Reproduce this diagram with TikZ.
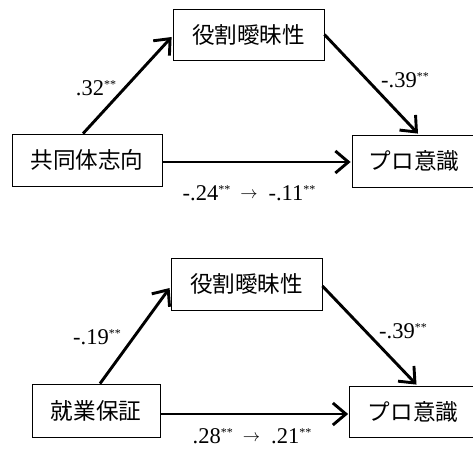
\documentclass[tikz,border=0pt]{standalone}
\usepackage{fontspec}
\setmainfont{Liberation Serif}
\newfontfamily\jpfont{Noto Sans CJK JP}
\usetikzlibrary{arrows.meta,calc}
\tikzset{
  box/.style={draw, line width=0.8pt, inner sep=0pt, font=\jpfont\fontsize{22.6}{22.6}\selectfont},
  conn/.style={line width=2.9pt, -{Straight Barb[length=13pt,width=22pt]}},
  lab/.style={font=\fontsize{22.5}{22.5}\selectfont, inner sep=0pt}
}
\newcommand{\sigmark}{\raisebox{6.5pt}{\fontsize{12}{12}\selectfont **}}
\newcommand{\midarrow}{\hspace{10pt}\raisebox{1.5pt}{\fontsize{17}{17}\selectfont$\rightarrow$}\hspace{11pt}}
\begin{document}
\begin{tikzpicture}[x=1pt,y=-1pt]
\useasboundingbox (0,0) rectangle (473,452);
% top diagram
\node[box, minimum width=151pt, minimum height=51pt] (M1) at (248.5,34.5) {役割曖昧性};
\node[box, minimum width=150pt, minimum height=52pt] (X1) at (87,160) {共同体志向};
\node[box, minimum width=124pt, minimum height=52pt] (Y1) at (414,161) {プロ意識};
\draw[conn] ($(X1.north)+(-4,0)$) -- ($(M1.west)+(-1,2.5)$);
\draw[conn] (M1.east) -- ($(Y1.north)+(4,-1)$);
\draw[conn] ($(X1.east)+(0,2)$) -- ($(Y1.west)+(-1,1)$);
\node[lab] (a1) at (96,88) {.32\sigmark};
\node[lab] (b1) at (405,80) {-.39\sigmark};
\node[lab] (c1) at (249,193) {-.24\sigmark\midarrow-.11\sigmark};
% bottom diagram
\node[box, minimum width=151pt, minimum height=52pt] (M2) at (246.5,284) {役割曖昧性};
\node[box, minimum width=128pt, minimum height=53pt] (X2) at (96,410.5) {就業保証};
\node[box, minimum width=127pt, minimum height=51pt] (Y2) at (413,411.5) {プロ意識};
\draw[conn] ($(X2.north)+(4,0)$) -- ($(M2.west)+(-1,4)$);
\draw[conn] ($(M2.east)+(0,2)$) -- ($(Y2.north)+(3.5,-1)$);
\draw[conn] ($(X2.east)+(0,3.5)$) -- ($(Y2.west)+(-1,2.5)$);
\node[lab] (a2) at (97,337) {-.19\sigmark};
\node[lab] (b2) at (403,331) {-.39\sigmark};
\node[lab] (c2) at (252,436) {.28\sigmark\midarrow.21\sigmark};
\end{tikzpicture}
\end{document}
